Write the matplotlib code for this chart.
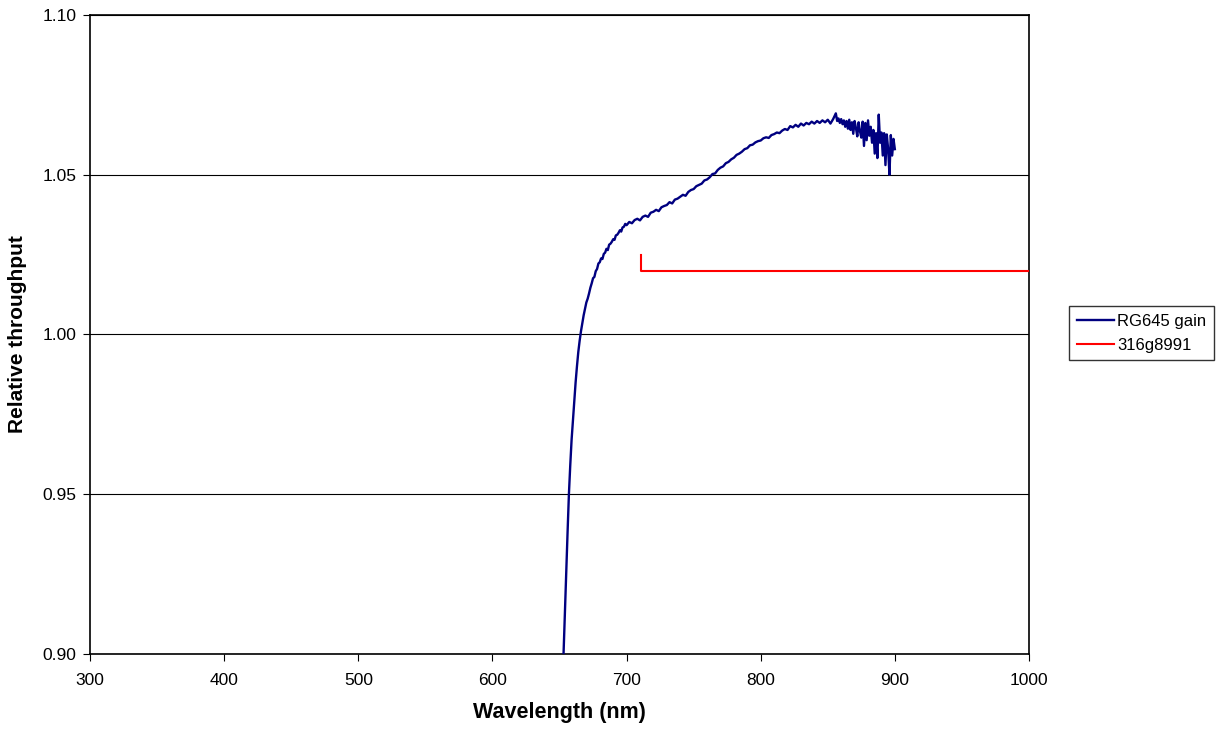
import matplotlib
matplotlib.use('Agg')
import matplotlib.pyplot as plt
from matplotlib.ticker import FormatStrFormatter

plt.rcParams['font.family'] = ['Liberation Sans', 'DejaVu Sans']

# RG645 gain curve
wl_gain = [653, 654, 655, 656, 657, 658, 659, 660, 661, 662, 663, 664, 665, 666, 667, 668, 669,
           670, 671, 672, 673, 674, 675, 676, 677, 678, 679, 680, 681, 682, 683, 684, 685, 686,
           687, 688, 689, 690, 691, 692, 693, 694, 695, 696, 697, 698, 699, 700,
           702, 704, 706, 708, 710, 712, 714, 716, 718, 720, 722, 724, 726, 728, 730, 732, 734,
           736, 738, 740, 742, 744, 746, 748, 750, 752, 754, 756, 758, 760, 762, 764, 766, 768,
           770, 772, 774, 776, 778, 780, 782, 784, 786, 788, 790, 792, 794, 796, 798, 800, 802,
           804, 806, 808, 810, 812, 814, 816, 818, 820, 822, 824, 826, 828, 830, 832, 834, 836,
           838, 840, 842, 844, 846, 848, 850, 852, 854, 856, 857, 858,
           859, 860, 861, 862, 863, 864, 865, 866, 867, 868, 869, 870, 871, 872, 873, 874, 875,
           876, 877, 878, 879, 880, 881, 882, 883, 884, 885, 886, 887, 888, 889, 890, 891, 892,
           893, 894, 895, 896, 897, 898, 899, 900]
gain = [0.900, 0.913, 0.926, 0.938, 0.950, 0.959, 0.967, 0.973, 0.979, 0.985, 0.990, 0.9945,
        0.998, 1.0010, 1.0035, 1.0060, 1.0080, 1.0100, 1.0112, 1.0128, 1.0146, 1.0160, 1.0176,
        1.0180, 1.0198, 1.0205, 1.0222, 1.0226, 1.0238, 1.0236, 1.0252, 1.0256, 1.0268, 1.0264,
        1.0281, 1.0284, 1.0290, 1.0298, 1.0296, 1.0310, 1.0312, 1.0318, 1.0326, 1.0322, 1.0335,
        1.0337, 1.0346, 1.0342,
        1.0352, 1.0348, 1.0358, 1.0362, 1.0357, 1.0368, 1.0372, 1.0368, 1.0381, 1.0384, 1.0390,
        1.0386, 1.0398, 1.0402, 1.0405, 1.0414, 1.0410, 1.0422, 1.0425, 1.0431, 1.0437, 1.0434,
        1.0446, 1.0452, 1.0455, 1.0464, 1.0468, 1.0472, 1.0482, 1.0485, 1.0492, 1.0502, 1.0504,
        1.0515, 1.0522, 1.0526, 1.0536, 1.0540, 1.0548, 1.0553, 1.0562, 1.0566, 1.0572, 1.0580,
        1.0583, 1.0592, 1.0594, 1.0601, 1.0605, 1.0607, 1.0614, 1.0617, 1.0615, 1.0624, 1.0627,
        1.0632, 1.0630, 1.0638, 1.0643, 1.0640, 1.0652, 1.0648, 1.0656, 1.0650, 1.0660, 1.0654,
        1.0662, 1.0658, 1.0666, 1.0660, 1.0668, 1.0662, 1.0670, 1.0664, 1.0672, 1.0660, 1.0674,
        1.0692, 1.0668, 1.0676,
        1.0662, 1.0674, 1.0658, 1.0670, 1.0650, 1.0668, 1.0644, 1.0672, 1.0640, 1.0664, 1.0628,
        1.0668, 1.0646, 1.0620, 1.0664, 1.0636, 1.0616, 1.0666, 1.0590, 1.0662, 1.0608, 1.0670,
        1.0622, 1.0650, 1.0600, 1.0640, 1.0566, 1.0630, 1.0552, 1.0688, 1.0600, 1.0632, 1.0560,
        1.0630, 1.0530, 1.0626, 1.0580, 1.0500, 1.0624, 1.0560, 1.0612, 1.0580]

# 316g8991 step line
wl_ref = [711, 711, 1000]
ref = [1.025, 1.020, 1.020]

fig = plt.figure(figsize=(12.17, 7.29), dpi=100)
ax = fig.add_axes([0.074, 0.103, 0.7715, 0.8765])

ax.plot(wl_gain, gain, color='#000080', lw=1.7, label='RG645 gain', zorder=3)
ax.plot(wl_ref, ref, color='#ff0000', lw=1.5, label='316g8991', zorder=3)

ax.set_xlim(300, 1000)
ax.set_ylim(0.90, 1.10)
ax.set_xticks(range(300, 1001, 100))
ax.set_yticks([0.90, 0.95, 1.00, 1.05, 1.10])
ax.yaxis.set_major_formatter(FormatStrFormatter('%.2f'))
ax.grid(axis='y', color='black', lw=0.8)
ax.set_axisbelow(True)
for s in ax.spines.values():
    s.set_linewidth(1.2)
ax.tick_params(direction='out', length=5, labelsize=12.5)
ax.tick_params(axis='x', pad=9)
ax.tick_params(axis='y', pad=5)

ax.set_xlabel('Wavelength (nm)', fontsize=15.5, fontweight='bold', labelpad=10)
fig.text(18 / 1217, 1 - 334 / 729, 'Relative throughput', fontsize=15, fontweight='bold',
         rotation=90, ha='center', va='center')

leg = fig.legend(loc='center left', bbox_to_anchor=(0.876, 0.543), fontsize=12,
                 frameon=True, fancybox=False, edgecolor='black', handlelength=2.2,
                 handletextpad=0.2, borderpad=0.45, labelspacing=0.55, borderaxespad=0.2)
leg.get_frame().set_linewidth(1.0)

fig.savefig('out.png', dpi=100)
